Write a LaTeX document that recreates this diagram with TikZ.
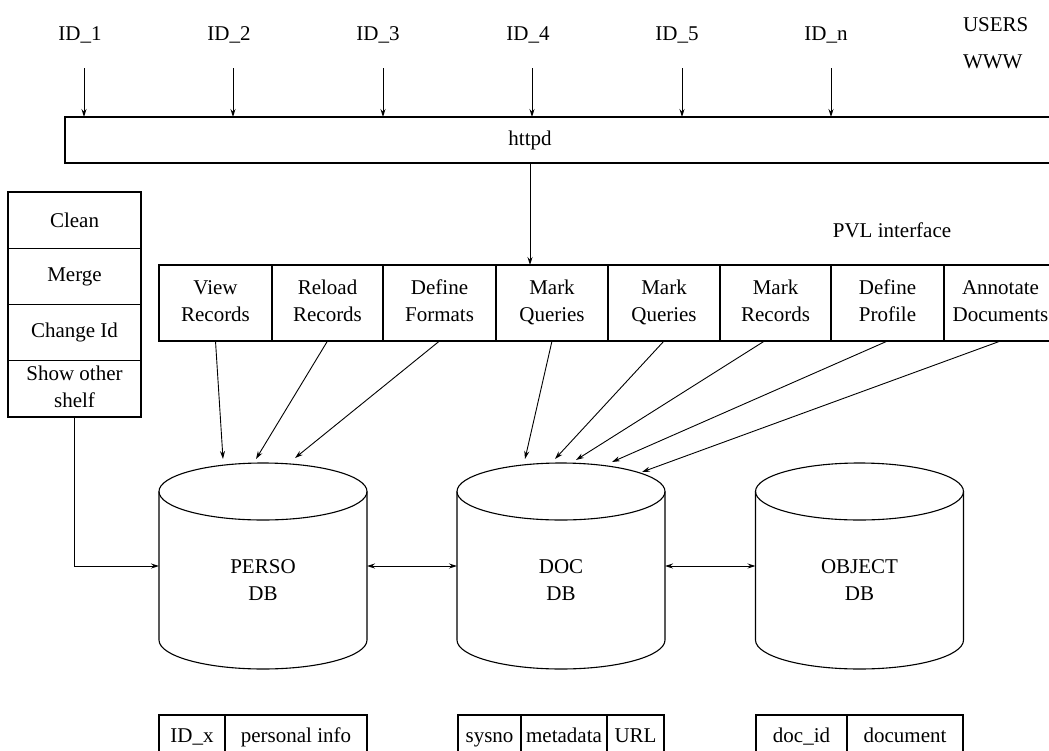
\documentclass[tikz,border=0pt]{standalone}
\usepackage{fontspec}
\setmainfont{Liberation Serif}
\usetikzlibrary{arrows.meta}
\newcommand{\tl}[2]{#1\strut\\#2\strut}
\begin{document}
\begin{tikzpicture}[x=1pt,y=-1pt,
  every node/.style={font=\fontsize{21}{27}\selectfont, inner sep=0pt, outer sep=0pt},
  box/.style={draw, line width=1.1pt},
  cell/.style={box, minimum width=#1, minimum height=76, align=center},
  lcell/.style={box, minimum width=133, minimum height=56.25, align=center},
  tcell/.style={box, minimum width=#1, minimum height=44, text height=15pt, text depth=5pt},
  arr/.style={line width=0.9pt, -{Stealth[length=8pt,width=5pt]}},
  darr/.style={line width=0.9pt, {Stealth[length=8pt,width=5pt]}-{Stealth[length=8pt,width=5pt]}},
  cyl/.style={line width=1.1pt}]
\useasboundingbox (0,0) rectangle (1049,750);
\clip (0,0) rectangle (1049,750);

% users
\foreach \n/\t/\x in {id1/ID\_1/80, id2/ID\_2/229, id3/ID\_3/378, id4/ID\_4/528, id5/ID\_5/677, idn/ID\_n/826}
  \node (\n) at (\x,35) {\t};
\node[anchor=west] (users) at (963,25) {USERS};
\node[anchor=west] (www) at (963,62) {WWW};

% httpd
\node[box, anchor=north west, minimum width=1000, minimum height=46] (httpd) at (65,117) {};
\node (httpdt) at (530,140) {httpd};
\foreach \n/\x in {id1/84, id2/233, id3/383, id4/532, id5/682, idn/831} {
  \coordinate (s\n) at (\x,68);
  \draw[arr] (s\n) -- (s\n |- httpd.north);
}

% left stack
\node[lcell] (clean) at (74.5,220.1) {Clean};
\node[lcell] (merge) at (74.5,276.4) {Merge};
\node[lcell] (chid) at (74.5,332.6) {Change Id};
\node[lcell] (shelf) at (74.5,388.9) {\tl{Show other}{shelf}};

% PVL interface
\node (pvl) at (892,230) {PVL interface};
\node[cell=113] (c1) at (215.5,303) {\tl{View}{Records}};
\node[cell=111] (c2) at (327.5,303) {\tl{Reload}{Records}};
\node[cell=113] (c3) at (439.5,303) {\tl{Define}{Formats}};
\node[cell=112] (c4) at (552,303) {\tl{Mark}{Queries}};
\node[cell=112] (c5) at (664,303) {\tl{Mark}{Queries}};
\node[cell=111] (c6) at (775.5,303) {\tl{Mark}{Records}};
\node[cell=113] (c7) at (887.5,303) {\tl{Define}{Profile}};
\node[cell=113] (c8) at (1000.5,303) {\tl{Annotate}{Documents}};

\coordinate (hb) at (530,163);
\draw[arr] (hb) -- (hb |- c4.north);

% cylinders
\foreach \n/\cx/\a/\b in {perso/263/PERSO/DB, doc/561/DOC/DB, object/859.5/OBJECT/DB} {
  \draw[cyl] (\cx-104,491.5) -- (\cx-104,640)
     arc[start angle=180, end angle=0, x radius=104, y radius=29]
     -- (\cx+104,491.5);
  \draw[cyl] (\cx,491.5) ellipse[x radius=104, y radius=28.5];
  \node[minimum width=208, minimum height=206] (\n) at (\cx,566) {};
  \node[align=center] (\n t) at (\cx,580) {\a\\\b};
}

% arrows from left stack
\draw[arr] (shelf.south) |- (perso.west);

% arrows between cylinders
\draw[darr] (perso.east) -- (doc.west);
\draw[darr] (doc.east) -- (object.west);

% arrows from PVL cells
\coordinate (p1) at (223,459);
\coordinate (p2) at (256,459);
\coordinate (p3) at (295,458);
\coordinate (d1) at (525,459);
\coordinate (d2) at (555,459);
\coordinate (d3) at (576,460);
\coordinate (d4) at (612,462);
\coordinate (d5) at (642,472);
\draw[arr] (c1.south) -- (p1);
\draw[arr] (c2.south) -- (p2);
\draw[arr] (c3.south) -- (p3);
\draw[arr] (c4.south) -- (d1);
\draw[arr] (c5.south) -- (d2);
\draw[arr] ([xshift=-11pt]c6.south) -- (d3);
\draw[arr] (c7.south) -- (d4);
\draw[arr] (c8.south) -- (d5);

% tables
\node[tcell=66] (tpid) at (192,737) {ID\_x};
\node[tcell=142] (tpinfo) at (296,737) {personal info};
\node[tcell=63] (tdsys) at (489.5,737) {sysno};
\node[tcell=86] (tdmeta) at (564,737) {metadata};
\node[tcell=57] (tdurl) at (635.5,737) {URL};
\node[tcell=91] (todid) at (801.5,737) {doc\_id};
\node[tcell=116] (todoc) at (905,737) {document};
\end{tikzpicture}
\end{document}
